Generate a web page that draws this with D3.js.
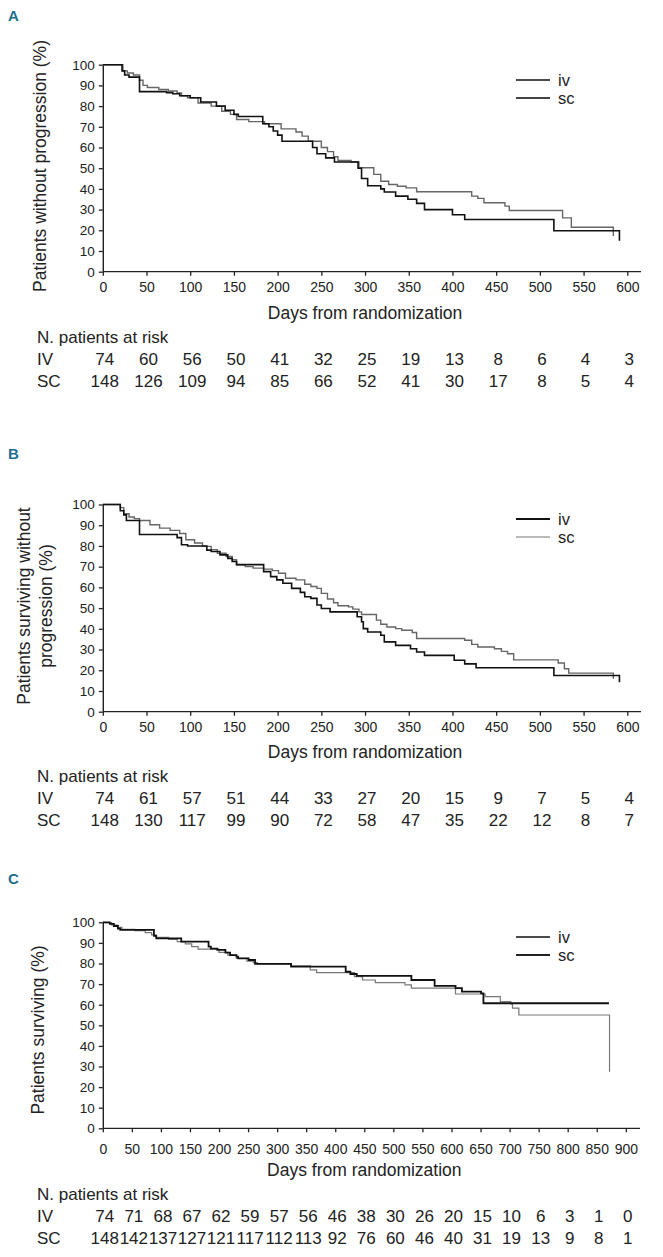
<!DOCTYPE html>
<html><head><meta charset="utf-8">
<script src="https://cdn.jsdelivr.net/npm/d3@7"></script>
<style>
body{margin:0;background:#fff;}
svg{display:block;}
text{font-family:"Liberation Sans",Arial,Helvetica,sans-serif;fill:#222;}
</style></head><body><svg id="chart" width="663" height="1257"></svg>
<script>
// ---------- DATA ----------
const yTicks = [0,10,20,30,40,50,60,70,80,90,100];
const xTicksAB = [0,50,100,150,200,250,300,350,400,450,500,550,600];
const xTicksC = [0,50,100,150,200,250,300,350,400,450,500,550,600,650,700,750,800,850,900];
const groupNames = ["iv","sc"];
const riskRowLabels = ["IV","SC"];

// Panel A: progression
const A_iv_days = [0,20,22,25,30,42,73,80,88,100,112,130,140,150,155,183,190,195,200,205,240,245,255,265,292,296,303,318,322,335,349,359,368,400,414,516,591];
const A_iv_surv = [100,100,97,95,94,87,86.5,86,85,84,82,80,78,76,75,71.5,70,68,66,63,60,57,55,53,50,45,41.5,40,38.5,36.5,35,33,30,27.5,25.2,19.8,15];
const A_sc_days = [0,20,23,28,35,42,46,51,64,75,85,90,97,109,124,136,146,153,167,185,204,221,228,235,250,257,264,269,284,293,310,318,327,337,347,359,422,429,436,460,465,526,536,584];
const A_sc_surv = [100,100,97,96,95,92.5,90,89,88,87.3,86.3,85,84,81.5,80,77.5,76,73.5,72.5,71.5,69,67.5,65.5,63,60,58,55.5,53.7,53,50.2,47,43.7,42.1,41.3,40.5,38.6,36.5,35.4,33.3,31.7,29.6,26,21.5,17.2];
const A_risk_iv = [74,60,56,50,41,32,25,19,13,8,6,4,3];
const A_risk_sc = [148,126,109,94,85,66,52,41,30,17,8,5,4];

// Panel B: progression-free survival
const B_iv_days = [0,20,24,27,42,85,90,97,119,124,134,143,148,153,184,192,199,206,216,226,231,238,245,250,260,291,296,298,303,318,322,335,352,359,368,402,414,427,516,591];
const B_iv_surv = [100,97,95,92.3,85.5,84,80.6,80,78,77.3,75.7,74,72.5,71,67.6,65.2,63.6,62,59.5,57.6,55.5,54.7,51.5,49.8,48.2,45.8,43.4,40.1,38.5,36.9,33.7,32,30.4,28.8,27.2,24.8,23.1,21.2,17.5,14.2];
const B_sc_days = [0,16,20,24,30,36,42,54,65,77,88,95,105,114,124,131,141,148,153,163,172,184,194,201,209,221,231,238,245,250,257,264,269,281,286,293,296,313,318,325,335,342,354,359,414,422,429,448,456,463,470,521,528,533,584];
const B_sc_surv = [100,100,98.5,95.5,94,93.2,92.3,90.2,88.6,87.5,86,83,81.4,79.8,78.2,76.5,74.9,73.3,70.9,70,69.3,68.8,68.1,66.8,64.4,63.6,61.5,60.4,59.5,57.1,54.4,52.6,51.1,50.6,49.5,48.2,46.9,44.2,42.2,40.9,40.1,39.3,38.2,35.3,34.5,32.5,31.2,30.4,29.1,28,25,23.5,20.7,18.6,15.9];
const B_risk_iv = [74,61,57,51,44,33,27,20,15,9,7,5,4];
const B_risk_sc = [148,130,117,99,90,72,58,47,35,22,12,8,7];

// Panel C: overall survival
const C_iv_days = [0,12,19,26,30,88,92,135,182,186,197,211,219,230,233,251,262,324,418,426,437,531,571,607,618,651,655,871];
const C_iv_surv = [100,99.2,98.2,97,96.3,93.4,92.2,90.6,88.2,87.2,86.6,85.3,84.1,83.3,82.5,81.7,79.8,78.5,76,74.9,74,72,69.1,68,66.3,65.5,60.7,60.7];
const C_sc_days = [0,4,15,26,33,55,73,84,92,113,128,142,153,164,200,215,230,248,259,266,324,357,368,433,447,469,520,531,607,658,684,702,705,716,872];
const C_sc_surv = [100,99.8,98.7,97.6,96.6,96,95,93.9,92.7,91.7,90.6,89.5,88.2,87,85.4,84.1,82.5,81.2,80.4,79.8,78.8,76.9,75.6,73.6,72,70.7,69.6,68,65.2,63.9,61.5,60.4,58.3,55,27.5];
const C_risk_iv = [74,71,68,67,62,59,57,56,46,38,30,26,20,15,10,6,3,1,0];
const C_risk_sc = [148,142,137,127,121,117,112,113,92,76,60,46,40,31,19,13,9,8,1];

// ---------- DRAW ----------
const svg = d3.select("#chart");
svg.append("rect").attr("width",663).attr("height",1257).attr("fill","#fff");

function panel(cfg){
  const x = d3.scaleLinear().domain([0,cfg.xmax]).range([102.8,cfg.xEnd]);
  const y = d3.scaleLinear().domain([0,100]).range([cfg.y0,cfg.y100]);
  const g = svg.append("g");

  // panel letter
  g.append("text").attr("x",8).attr("y",cfg.letterY).attr("font-size",15).attr("font-weight","bold")
    .style("fill","#1e6f8e").text(cfg.letter);

  // y axis
  const ya = g.append("g").attr("transform",`translate(${x(0)},0)`)
    .call(d3.axisLeft(y).tickValues(yTicks).tickSize(4).tickSizeOuter(0).tickPadding(4));
  ya.selectAll("text").attr("font-size",13.5).style("font-family",null);
  // x axis
  const xa = g.append("g").attr("transform",`translate(0,${y(0)})`)
    .call(d3.axisBottom(x).tickValues(cfg.xTicks).tickSize(4).tickSizeOuter(0).tickPadding(cfg.tickPad));
  xa.selectAll("text").attr("font-size",14).style("font-family",null);
  xa.select(".domain").remove();
  xa.append("line").attr("x1",x(0)).attr("x2",cfg.axisEnd).attr("y1",0).attr("y2",0).attr("stroke","#222").attr("stroke-width",1.4);
  [ya,xa].forEach(a=>{a.selectAll("line").attr("stroke","#222").attr("stroke-width",1.3);
                     a.select(".domain").attr("stroke","#222").attr("stroke-width",1.4);});

  // y axis title
  const yt = g.append("text").attr("transform",`translate(${cfg.ytX},${cfg.ytY}) rotate(-90)`)
    .attr("text-anchor","middle").attr("font-size",17.5);
  cfg.yTitle.forEach((t,i)=>yt.append("tspan").attr("x",0).attr("dy",i===0?0:"1.25em").text(t));

  // x axis title
  g.append("text").attr("x",(x(0)+x(cfg.xTicks[cfg.xTicks.length-1]))/2).attr("y",cfg.daysY)
    .attr("text-anchor","middle").attr("font-size",17.5).text("Days from randomization");

  // curves
  const line = d3.line().curve(d3.curveStepAfter).x(d=>x(d[0])).y(d=>y(d[1]));
  cfg.series.forEach(s=>{
    g.append("path").datum(d3.zip(s.days,s.surv)).attr("d",line)
      .attr("fill","none").attr("stroke",s.color).attr("stroke-width",s.width).attr("stroke-linejoin","miter");
  });

  // legend
  cfg.legend.forEach((l,i)=>{
    const ly = cfg.legY + i*18;
    g.append("line").attr("x1",516).attr("x2",550).attr("y1",ly).attr("y2",ly)
      .attr("stroke",l.color).attr("stroke-width",l.width);
    g.append("text").attr("x",558).attr("y",ly).attr("dy","0.35em").attr("font-size",16.5).text(groupNames[i]);
  });

  // risk table
  g.append("text").attr("x",37).attr("y",cfg.riskY).attr("dy","0.35em").attr("font-size",17).text("N. patients at risk");
  cfg.risk.forEach((row,r)=>{
    const ry = cfg.riskY + 22*(r+1);
    g.append("text").attr("x",37).attr("y",ry).attr("dy","0.35em").attr("font-size",17).text(riskRowLabels[r]);
    g.selectAll(null).data(row).join("text")
      .attr("x",(d,i)=>x(cfg.xTicks[i]) + cfg.riskShift).attr("y",ry).attr("dy","0.35em")
      .attr("text-anchor","middle").attr("font-size",17).text(d=>d);
  });
}

panel({letter:"A", letterY:21, xmax:600, xEnd:627.3, axisEnd:641, y0:271.7, y100:64.7, xTicks:xTicksAB, tickPad:6,
  yTitle:["Patients without progression (%)"], ytX:46, ytY:166, daysY:319,
  series:[{days:A_sc_days,surv:A_sc_surv,color:"#666",width:1.4},{days:A_iv_days,surv:A_iv_surv,color:"#111",width:1.6}],
  legend:[{color:"#111",width:1.4},{color:"#444",width:2.2}], legY:80,
  risk:[A_risk_iv,A_risk_sc], riskY:337, riskShift:2});

panel({letter:"B", letterY:459, xmax:600, xEnd:627.3, axisEnd:641, y0:711.7, y100:504.5, xTicks:xTicksAB, tickPad:6,
  yTitle:["Patients surviving without","progression (%)"], ytX:30, ytY:606, daysY:758,
  series:[{days:B_sc_days,surv:B_sc_surv,color:"#666",width:1.4},{days:B_iv_days,surv:B_iv_surv,color:"#111",width:1.6}],
  legend:[{color:"#111",width:1.8},{color:"#777",width:1.2}], legY:519,
  risk:[B_risk_iv,B_risk_sc], riskY:776, riskShift:2});

panel({letter:"C", letterY:884, xmax:900, xEnd:625.8, axisEnd:640, y0:1128.3, y100:922.3, xTicks:xTicksC, tickPad:12,
  yTitle:["Patients surviving (%)"], ytX:44, ytY:1030, daysY:1176,
  series:[{days:C_sc_days,surv:C_sc_surv,color:"#777",width:1.2},{days:C_iv_days,surv:C_iv_surv,color:"#111",width:1.8}],
  legend:[{color:"#111",width:1.3},{color:"#222",width:2.2}], legY:937,
  risk:[C_risk_iv,C_risk_sc], riskY:1194, riskShift:2});
</script></body></html>
